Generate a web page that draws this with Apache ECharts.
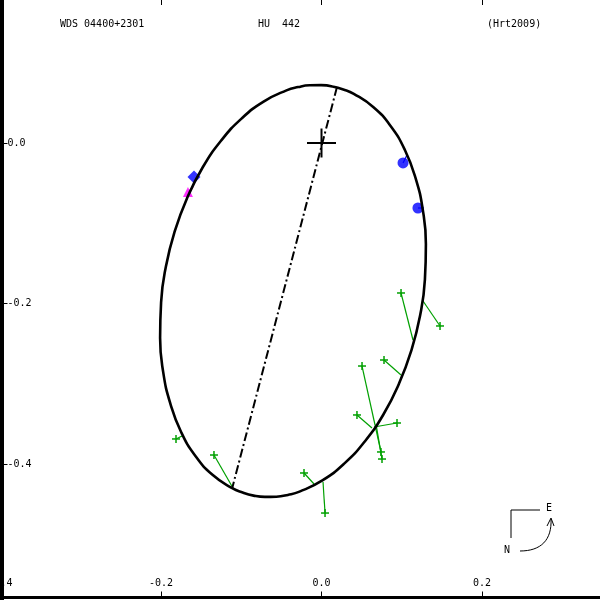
<!DOCTYPE html>
<html>
<head>
<meta charset="utf-8">
<script src="https://cdn.jsdelivr.net/npm/echarts@6/dist/echarts.min.js"></script>
<style>html,body{margin:0;padding:0;background:#fff}#c{width:600px;height:600px}</style>
</head>
<body>
<div id="c"></div>
<script>
// Orbit ellipse, arcsec
const orbitX = [0.01358, 0.02717, 0.04025, 0.06480, 0.08611, 0.10393, 0.11726, 0.12623, 0.13009, 0.12885, 0.12287, 0.11190, 0.09645, 0.07713, 0.05421, 0.02866, 0.00112, -0.02741, -0.04187, -0.05632, -0.07053, -0.08461, -0.09819, -0.11128, -0.13583, -0.15713, -0.17495, -0.18829, -0.19726, -0.20112, -0.19988, -0.19389, -0.18293, -0.16748, -0.14816, -0.12523, -0.09969, -0.07215, -0.04361, -0.02916, -0.01470, -0.00050, 0.01358];
const orbitY = [0.07053, 0.06679, 0.06131, 0.04461, 0.02118, -0.00872, -0.04386, -0.08336, -0.12586, -0.17022, -0.21495, -0.25869, -0.30019, -0.33832, -0.37159, -0.39925, -0.42044, -0.43439, -0.43850, -0.44075, -0.44100, -0.43938, -0.43564, -0.43016, -0.41346, -0.39003, -0.36012, -0.32498, -0.28548, -0.24299, -0.19863, -0.15389, -0.11016, -0.06866, -0.03053, 0.00274, 0.03040, 0.05159, 0.06555, 0.06966, 0.07190, 0.07215, 0.07053];

// Line of nodes
const nodeX = [0.0193, -0.1113];
const nodeY = [0.0698, -0.4302];

// Micrometric measures (green +) and their predicted positions
const microObsX  = [0.0991, 0.1477, 0.0779, 0.0505, 0.0442, 0.0941, 0.0741, 0.0754, -0.0218, 0.0044, -0.1340, -0.1813];
const microObsY  = [-0.1869, -0.2280, -0.2704, -0.2779, -0.3389, -0.3489, -0.3850, -0.3938, -0.4112, -0.4611, -0.3888, -0.3688];
const microPredX = [0.1140, 0.1265, 0.0991, 0.0667, 0.0629, 0.0654, 0.0667, 0.0679, -0.0093, 0.0019, -0.1103, -0.1738];
const microPredY = [-0.2455, -0.1969, -0.2891, -0.3514, -0.3551, -0.3539, -0.3514, -0.3502, -0.4249, -0.4224, -0.4299, -0.3651];

// Interferometric measures (blue dots)
const specObsX  = [0.1016, 0.1202];
const specObsY  = [-0.0249, -0.0810];
const specPredX = [0.1065, 0.1277];
const specPredY = [-0.0150, -0.0810];

// Other measures
const diamondX = [-0.1589];
const diamondY = [-0.0424];
const triObsX  = [-0.1664];
const triObsY  = [-0.0611];
const triPredX = [-0.1601];
const triPredY = [-0.0548];

// Primary star
const primaryX = [0];
const primaryY = [0];

const titles = ['WDS 04400+2301', 'HU  442', '(Hrt2009)'];

const FONT = '"DejaVu Sans Mono", "Liberation Mono", monospace';

function residuals(ox, oy, px, py, color, plusSize) {
  return {
    type: 'custom', coordinateSystem: 'cartesian2d', clip: false, silent: true,
    data: ox.map((x, i) => [x, oy[i], px[i], py[i]]),
    encode: {x: [0, 2], y: [1, 3]},
    renderItem: function (params, api) {
      const o = api.coord([api.value(0), api.value(1)]);
      const p = api.coord([api.value(2), api.value(3)]);
      const ch = [{type: 'line', shape: {x1: p[0], y1: p[1], x2: o[0], y2: o[1]}, style: {stroke: color, lineWidth: 1.2}}];
      if (plusSize) {
        const s = plusSize;
        ch.push({type: 'line', shape: {x1: o[0] - s, y1: o[1], x2: o[0] + s, y2: o[1]}, style: {stroke: color, lineWidth: 1.5}});
        ch.push({type: 'line', shape: {x1: o[0], y1: o[1] - s, x2: o[0], y2: o[1] + s}, style: {stroke: color, lineWidth: 1.5}});
      }
      return {type: 'group', children: ch};
    }
  };
}

function crossSeries(xs, ys, half, color, lw) {
  return {
    type: 'custom', coordinateSystem: 'cartesian2d', clip: false, silent: true,
    data: xs.map((x, i) => [x, ys[i]]),
    renderItem: function (params, api) {
      const o = api.coord([api.value(0), api.value(1)]);
      return {type: 'group', children: [
        {type: 'line', shape: {x1: o[0] - half, y1: o[1], x2: o[0] + half, y2: o[1]}, style: {stroke: color, lineWidth: lw}},
        {type: 'line', shape: {x1: o[0], y1: o[1] - half, x2: o[0], y2: o[1] + half}, style: {stroke: color, lineWidth: lw}}
      ]};
    }
  };
}

const fmt = v => (Math.round(v * 10) / 10).toFixed(1);

const chart = echarts.init(document.getElementById('c'), null, {renderer: 'canvas'});
chart.setOption({
  animation: false,
  backgroundColor: '#ffffff',
  grid: {left: 0.5, top: -17.5, width: 642, height: 642, containLabel: false, outerBoundsMode: 'none'},
  xAxis: [
    {type: 'value', min: -0.4, max: 0.4, interval: 0.2, position: 'bottom', offset: -27,
     axisLine: {onZero: false, lineStyle: {color: '#000', width: 3}},
     axisTick: {inside: true, length: 6, lineStyle: {color: '#000', width: 1}},
     axisLabel: {inside: true, margin: 9, color: '#000', fontFamily: FONT, fontSize: 10, formatter: fmt, showMinLabel: true, showMaxLabel: true},
     splitLine: {show: false}},
    {type: 'value', min: -0.4, max: 0.4, interval: 0.2, position: 'top', offset: -17.5,
     axisLine: {show: false, onZero: false},
     axisTick: {show: true, inside: true, length: 5, lineStyle: {color: '#000', width: 1}},
     axisLabel: {show: false}, splitLine: {show: false}}
  ],
  yAxis: [
    {type: 'value', min: -0.6, max: 0.2, interval: 0.2, position: 'left',
     axisLine: {onZero: false, lineStyle: {color: '#000', width: 6}},
     axisTick: {inside: true, length: 7, lineStyle: {color: '#000', width: 1}},
     axisLabel: {inside: true, margin: 7, color: '#000', fontFamily: FONT, fontSize: 10, formatter: fmt},
     splitLine: {show: false}}
  ],
  graphic: [
    {type: 'text', left: 60, top: 19, style: {text: titles[0], font: '10px ' + FONT, fill: '#000'}},
    {type: 'text', left: 258, top: 19, style: {text: titles[1], font: '10px ' + FONT, fill: '#000'}},
    {type: 'text', left: 487, top: 19, style: {text: titles[2], font: '10px ' + FONT, fill: '#000'}},
    {type: 'polyline', shape: {points: [[540, 510], [511, 510], [511, 538]]}, style: {stroke: '#000', lineWidth: 1, fill: null}},
    {type: 'text', left: 546, top: 503, style: {text: 'E', font: '10px ' + FONT, fill: '#000'}},
    {type: 'text', left: 504, top: 545, style: {text: 'N', font: '10px ' + FONT, fill: '#000'}},
    {type: 'bezierCurve', shape: {x1: 520, y1: 551, cpx1: 541, cpy1: 551, cpx2: 552, cpy2: 540, x2: 551, y2: 519}, style: {stroke: '#000', lineWidth: 1, fill: null}},
    {type: 'polyline', shape: {points: [[547, 526], [551, 518], [554, 526]]}, style: {stroke: '#000', lineWidth: 1, fill: null}}
  ],
  series: [
    {type: 'line', data: orbitX.map((x, i) => [x, orbitY[i]]), smooth: 0.5, symbol: 'none', silent: true,
     lineStyle: {color: '#000', width: 2.6}},
    {type: 'line', data: nodeX.map((x, i) => [x, nodeY[i]]), symbol: 'none', silent: true,
     lineStyle: {color: '#000', width: 2, type: [9, 3, 2, 3]}},
    crossSeries(primaryX, primaryY, 14.5, '#000', 2),
    residuals(microObsX, microObsY, microPredX, microPredY, '#00a000', 4),
    residuals(specObsX, specObsY, specPredX, specPredY, '#0000ff', 0),
    residuals(triObsX, triObsY, triPredX, triPredY, '#ff00ff', 0),
    {type: 'scatter', data: specObsX.map((x, i) => [x, specObsY[i]]), symbol: 'circle', symbolSize: 11, silent: true,
     itemStyle: {color: '#0000ff'}},
    {type: 'scatter', data: diamondX.map((x, i) => [x, diamondY[i]]), symbol: 'diamond', symbolSize: 13, silent: true,
     itemStyle: {color: '#0000ff'}},
    {type: 'scatter', data: triObsX.map((x, i) => [x, triObsY[i]]), symbol: 'triangle', symbolSize: 10, silent: true,
     itemStyle: {color: '#ff00ff'}}
  ]
});
</script>
</body>
</html>
